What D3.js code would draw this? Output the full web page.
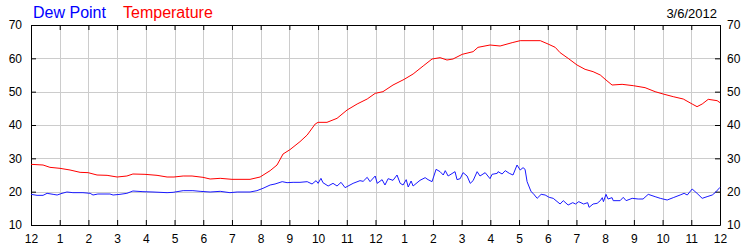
<!DOCTYPE html>
<html>
<head>
<meta charset="utf-8">
<script src="https://cdn.jsdelivr.net/npm/d3@7"></script>
<style>
  body { margin: 0; background: #fff; }
  #chart text { font-family: "Liberation Sans", Arial, sans-serif; }
</style>
</head>
<body>
<div id="chart"></div>
<script>
// readings (hour of day, degrees F)
var tempHours = [0,0.42,0.66,1.01,1.36,1.71,1.99,2.3,2.65,3.0,3.34,3.55,3.97,4.39,4.74,4.98,5.3,5.61,5.99,6.24,6.59,7.0,7.63,7.98,8.33,8.57,8.78,9.02,9.37,9.62,9.9,10.0,10.31,10.66,11.01,11.36,11.71,11.99,12.26,12.61,13.0,13.31,13.66,13.97,14.25,14.49,14.7,15.02,15.4,15.57,15.99,16.34,16.76,17.04,17.74,18.01,18.26,18.43,18.71,19.02,19.3,19.58,19.83,20.03,20.24,20.59,20.98,21.39,21.74,22.02,22.37,22.72,23.03,23.2,23.38,23.59,23.9,24];
var tempValues = [28.2,28.0,27.3,27.0,26.5,25.8,25.7,25.0,24.9,24.4,24.7,25.3,25.2,24.9,24.4,24.4,24.7,24.7,24.3,23.8,24.0,23.7,23.7,24.4,26.3,28.0,31.3,32.6,35,37,40.3,40.8,40.8,42,44.5,46.3,47.8,49.5,50,52,53.7,55.3,57.7,59.8,60.2,59.5,59.8,61.2,62,63.3,64,63.7,64.7,65.3,65.3,64.3,63.3,61.7,60,58,56.7,56,55,53.5,52,52.2,51.8,51.2,50,49.3,48.5,47.8,46.3,45.5,46.3,47.7,47.3,46.7];

var dewHours = [0,0.21,0.42,0.56,0.77,0.91,1.08,1.25,1.46,1.81,2.06,2.16,2.33,2.75,2.86,3.1,3.34,3.55,3.9,4.25,4.74,4.95,5.3,5.64,5.89,6.24,6.59,6.93,7.18,7.63,7.87,8.08,8.33,8.5,8.75,8.92,9.13,9.37,9.62,9.79,9.93,10.0,10.1,10.17,10.35,10.52,10.66,10.8,10.94,11.22,11.46,11.57,11.71,11.81,11.99,12.06,12.23,12.33,12.44,12.61,12.75,12.86,12.96,13.07,13.14,13.24,13.31,13.55,13.73,13.83,13.97,14.11,14.25,14.36,14.43,14.53,14.77,14.84,14.95,15.05,15.19,15.3,15.4,15.54,15.64,15.82,15.99,16.06,16.24,16.27,16.41,16.52,16.66,16.79,16.93,17.04,17.14,17.21,17.28,17.42,17.49,17.63,17.77,17.91,18.05,18.19,18.43,18.54,18.71,18.87,18.97,19.08,19.25,19.39,19.44,19.58,19.72,19.83,19.9,19.94,20.03,20.1,20.24,20.28,20.52,20.63,20.73,20.94,21.15,21.32,21.5,21.74,21.92,22.16,22.37,22.61,22.75,22.86,23.03,23.2,23.38,23.55,23.73,23.83,24];
var dewValues = [19.2,18.9,18.9,19.5,19.2,19.0,19.5,19.9,19.7,19.7,19.5,19.0,19.3,19.3,19.0,19.2,19.5,20.2,20.0,19.9,19.7,19.8,20.3,20.3,20.1,19.9,20.1,19.7,19.9,19.9,20.3,21.0,22.0,22.3,23.0,22.7,22.8,22.8,23.0,22.3,23.3,22.5,24.0,22.7,21.7,22.5,21.7,22.8,21.2,22.5,23.3,23.1,24.3,23.0,24.7,22.5,23.6,22.0,23.9,23.4,25.0,22.5,22.0,23.6,21.4,23.2,21.7,23.4,24.2,23.6,23.0,26.7,26.0,25.0,26.3,24.7,26.0,23.6,23.9,25.7,24.7,22.5,23.3,26.0,24.7,25.7,23.9,25.2,25.5,26.0,25.3,26.3,25.5,25.0,28.0,26.5,27.2,26.7,23.0,20.0,19.5,18.0,19.2,19.0,18.3,18.0,16.3,17.3,16.0,16.7,16.3,17.0,16.3,16.7,15.3,16.3,16.5,17.3,18.2,17.0,19.2,17.8,18.2,17.3,17.3,18.3,17.3,18.0,17.8,17.8,19.2,18.5,18.0,17.5,18.2,19.0,19.5,19.0,20.8,19.5,18.0,18.5,19.0,19.7,21.3];

var hourTicks = d3.range(0, 25);
var degreeTicks = [10, 20, 30, 40, 50, 60, 70];
var dateLabel = "3/6/2012";

var margin = {top: 25, right: 30, bottom: 25, left: 31},
  width = 689,
  height = 200;

var root = d3.select("#chart")
.append("svg")
  .attr("width", 750)
  .attr("height", 250);

var svg = root.append("g")
  .attr("transform", "translate(" + margin.left + "," + margin.top + ")");

var x = d3.scaleLinear().domain([0, 24]).range([0, width]);
var y = d3.scaleLinear().domain([10, 70]).range([height, 0]);

// grid
svg.append("g").selectAll("line")
  .data(hourTicks.slice(1, -1))
  .enter().append("line")
    .attr("x1", function(d) { return Math.round(x(d)) + 0.5 })
    .attr("x2", function(d) { return Math.round(x(d)) + 0.5 })
    .attr("y1", 0).attr("y2", height)
    .attr("stroke", "#cccccc");
svg.append("g").selectAll("line")
  .data(degreeTicks.slice(1, -1))
  .enter().append("line")
    .attr("y1", function(d) { return Math.round(y(d)) + 0.5 })
    .attr("y2", function(d) { return Math.round(y(d)) + 0.5 })
    .attr("x1", 0).attr("x2", width)
    .attr("stroke", "#cccccc");

// axes, ticks point inwards
function hourLabel(h) { return h % 12 === 0 ? 12 : h % 12; }

svg.append("g")
  .attr("transform", "translate(0," + height + ")")
  .call(d3.axisBottom(x).tickValues(hourTicks).tickFormat(hourLabel)
    .tickSizeInner(-5).tickSizeOuter(0).tickPadding(9));
svg.append("g")
  .call(d3.axisTop(x).tickValues(hourTicks).tickFormat("")
    .tickSizeInner(-5).tickSizeOuter(0));
svg.append("g")
  .call(d3.axisLeft(y).tickValues(degreeTicks)
    .tickSizeInner(-5).tickSizeOuter(0).tickPadding(9));
svg.append("g")
  .attr("transform", "translate(" + width + ",0)")
  .call(d3.axisRight(y).tickValues(degreeTicks)
    .tickSizeInner(-5).tickSizeOuter(0).tickPadding(7));

svg.selectAll(".tick text").attr("font-size", 12).attr("fill", "#000");
svg.selectAll(".domain, .tick line").attr("stroke", "#000");

// lines
var dewData = dewHours.map(function(h, i) { return [h, dewValues[i]] });
var tempData = tempHours.map(function(h, i) { return [h, tempValues[i]] });

var line = d3.line()
  .x(function(d) { return x(d[0]) })
  .y(function(d) { return y(d[1]) });

svg.append("path").datum(dewData)
  .attr("d", line).attr("fill", "none")
  .attr("stroke", "#1a1aff").attr("stroke-width", 1);
svg.append("path").datum(tempData)
  .attr("d", line).attr("fill", "none")
  .attr("stroke", "#ff0000").attr("stroke-width", 1);

// legend + date
root.append("text").attr("x", 33).attr("y", 18).attr("font-size", 16)
  .attr("fill", "#0000ff").text("Dew Point");
root.append("text").attr("x", 123).attr("y", 18).attr("font-size", 16)
  .attr("fill", "#ff0000").text("Temperature");
root.append("text").attr("x", 717).attr("y", 18).attr("font-size", 13)
  .attr("text-anchor", "end").attr("fill", "#000").text(dateLabel);
</script>
</body>
</html>
